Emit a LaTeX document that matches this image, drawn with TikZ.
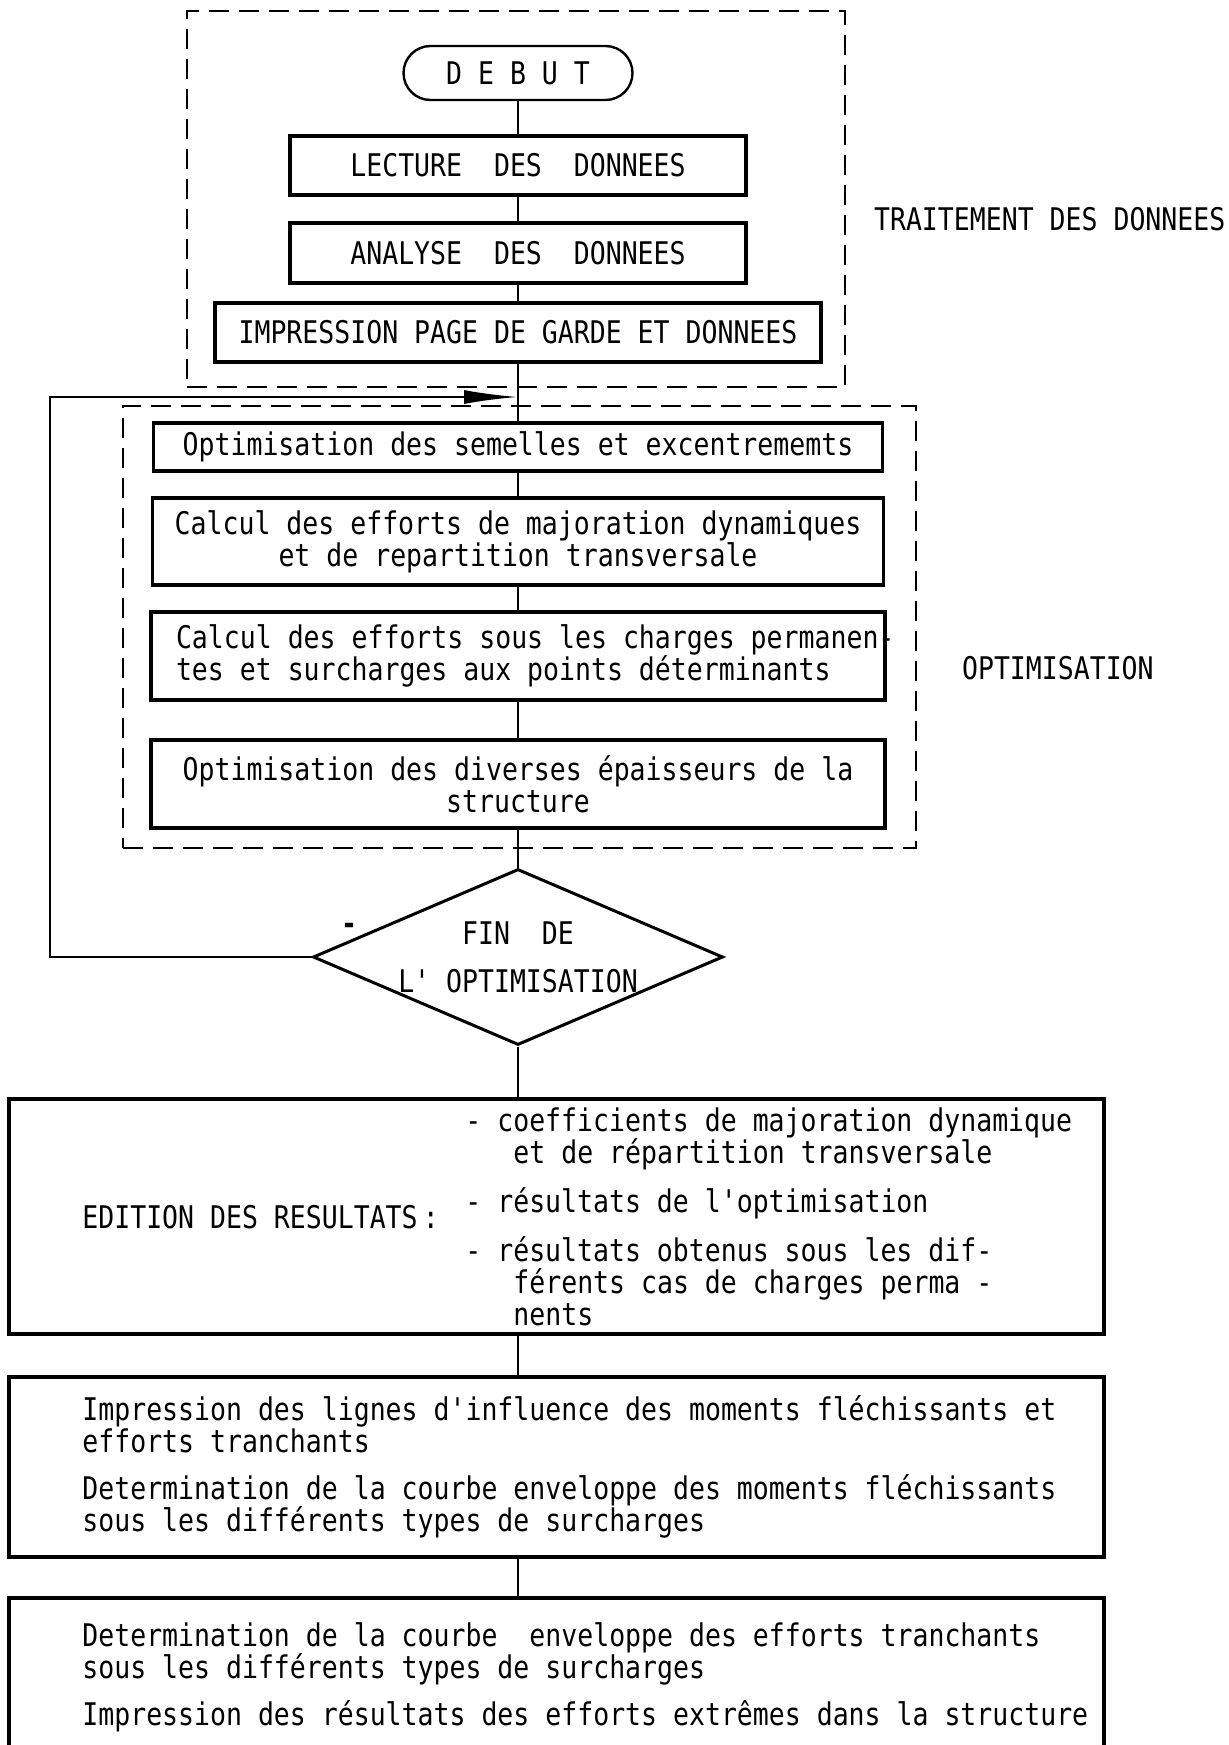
\documentclass[tikz,border=0pt]{standalone}
\usepackage{fontspec}
\newfontfamily\flowfont[FakeStretch=0.85]{DejaVu Sans Mono}
\usetikzlibrary{arrows.meta, shapes.geometric}

\begin{document}
\begin{tikzpicture}[
    x=0.5pt, y=-0.5pt,
    every node/.style={font=\flowfont\fontsize{15.6}{16}\selectfont},
    stepbox/.style={draw, line width=1.7pt, inner sep=0pt, align=center},
    groupbox/.style={draw, line width=1.4pt, dash pattern=on 10pt off 5pt, inner sep=0pt},
    link/.style={line width=0.8pt},
    loopback/.style={line width=1.2pt, -{Latex[length=27pt, width=7pt]}}
]
\useasboundingbox (0,0) rectangle (1229,1745);

% Data processing
\node[groupbox, minimum width=329pt, minimum height=188pt] (tdbox) at (516,199) {};
\node[stepbox, rounded corners=13.5pt, line width=1.2pt, minimum width=114.5pt, minimum height=27pt] (debut) at (518,73) {D E B U T};
\node[stepbox, minimum width=228pt, minimum height=29.5pt] (lecture) at (518,165.5) {LECTURE~~DES~~DONNEES};
\node[stepbox, minimum width=228pt, minimum height=30pt] (analyse) at (518,253) {ANALYSE~~DES~~DONNEES};
\node[stepbox, minimum width=303pt, minimum height=29.5pt] (impression) at (518,332.5) {IMPRESSION PAGE DE GARDE ET DONNEES};
\node[anchor=west] (tdlabel) at (867,219) {TRAITEMENT DES DONNEES};

\draw[link] (debut) -- (lecture);
\draw[link] (lecture) -- (analyse);
\draw[link] (analyse) -- (impression);

% Optimisation loop
\node[groupbox, minimum width=396.5pt, minimum height=221pt] (optbox) at (519.5,627) {};
\node[stepbox, minimum width=364.5pt, minimum height=24pt] (opt1) at (518,447) {Optimisation des semelles et excentrememts};
\node[stepbox, minimum width=365.5pt, minimum height=43.5pt] (calc1) at (518,541.5) {Calcul des efforts de majoration dynamiques\\ et de repartition transversale};
\node[stepbox, align=left, text width=342pt, inner xsep=12.5pt, minimum height=44pt] (calc2) at (518,656) {\spaceskip=0pt\relax
    \mbox{Calcul des efforts sous les charges permanen-}\\ tes et surcharges aux points déterminants};
\node[stepbox, minimum width=367pt, minimum height=44pt] (opt2) at (518,784) {Optimisation des diverses épaisseurs de la\\ structure};
\node[anchor=west] (optlabel) at (955,668) {OPTIMISATION};

\draw[link] (impression) -- (opt1);
\draw[link] (opt1) -- (calc1);
\draw[link] (calc1) -- (calc2);
\draw[link] (calc2) -- (opt2);

% End test
\node[draw, diamond, aspect=2.33, line width=1.5pt, inner sep=0pt, align=center,
      minimum width=205pt, minimum height=88pt] (fin) at (518,957) {FIN~~DE\\[8pt] L'~OPTIMISATION};
\node[font=\flowfont\bfseries\fontsize{15.6}{16}\selectfont] (dashmark) at (349,929) {-};
\coordinate (back) at (50,397);
\coordinate (merge) at (518,397);

\draw[link] (opt2) -- (fin);
\draw[loopback] (fin.west) -| (back) -- (merge);

% Results
\node[stepbox, minimum width=547.5pt, minimum height=117.5pt] (edition) at (556.5,1216.5) {};
\node[anchor=west, inner sep=0pt] (edlabel) at (82,1217) {EDITION DES RESULTATS\,:};
\node[anchor=west, inner sep=0pt, align=left] (edlist) at (465,1217) {- coefficients de majoration dynamique\\
    \hspace*{24pt}et de répartition transversale\\[8.5pt]
    - résultats de l'optimisation\\[8.5pt]
    - résultats obtenus sous les dif-\\
    \hspace*{24pt}férents cas de charges perma -\\
    \hspace*{24pt}nents};

\node[stepbox, minimum width=547.5pt, minimum height=90pt] (influence) at (556.5,1467) {};
\node[anchor=west, inner sep=0pt, align=left] (inftext) at (82,1467) {Impression des lignes d'influence des moments fléchissants et\\
    efforts tranchants\\[7.5pt]
    Determination de la courbe enveloppe des moments fléchissants\\
    sous les différents types de surcharges};

\node[stepbox, minimum width=547.5pt, minimum height=79.5pt] (extremes) at (556.5,1677.5) {};
\node[anchor=west, inner sep=0pt, align=left] (exttext) at (82,1677.5) {Determination de la courbe~~enveloppe des efforts tranchants\\
    sous les différents types de surcharges\\[7.5pt]
    Impression des résultats des efforts extrêmes dans la structure};

\draw[link] (fin) -- (fin.south |- edition.north);
\draw[link] (edition.south -| fin.south) -- (influence.north -| fin.south);
\draw[link] (influence.south -| fin.south) -- (extremes.north -| fin.south);

\end{tikzpicture}
\end{document}
